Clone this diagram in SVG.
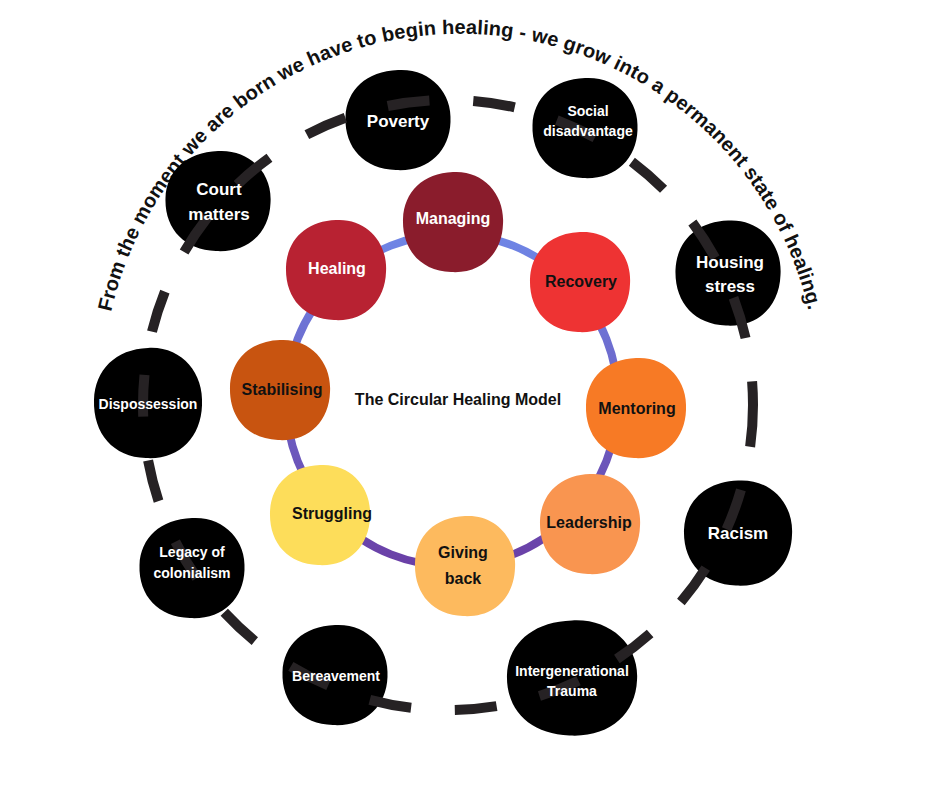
<svg xmlns="http://www.w3.org/2000/svg" width="940" height="788" viewBox="0 0 940 788">
<defs>
<path id="blob" d="M0,-50 C30,-52 52,-28 50,2 C49,32 28,52 -2,50 C-32,49 -51,28 -50,-3 C-49,-30 -30,-49 0,-50Z"/>
<linearGradient id="ring" x1="0" y1="0" x2="0" y2="1"><stop offset="0" stop-color="#6f86e6"/><stop offset="1" stop-color="#6a3fa6"/></linearGradient>
<path id="arc" d="M111,312 A358,358 0 0 1 809,312"/>
<style>
text{font-family:"Liberation Sans",Arial,sans-serif;font-weight:bold;text-anchor:middle}
.w{fill:#fff}.b{fill:#111}
.o{fill:#000}
</style>
</defs>
<rect width="940" height="788" fill="#fff"/>
<text font-size="20" style="text-anchor:start" fill="#111"><textPath href="#arc" textLength="962" lengthAdjust="spacing">From the moment we are born we have to begin healing - we grow into a permanent state of healing.</textPath></text>
<g id="outer-nodes">
<g id="poverty"><use href="#blob" class="o" transform="translate(398,120) scale(1.05,1)"/></g>
<g id="social"><use href="#blob" class="o" transform="translate(585,128) scale(1.05,1)"/></g>
<g id="housing"><use href="#blob" class="o" transform="translate(728,273) scale(1.05,1.05)"/></g>
<g id="racism"><use href="#blob" class="o" transform="translate(738,533) scale(1.08,1.05)"/></g>
<g id="intergen"><use href="#blob" class="o" transform="translate(572,678) scale(1.3,1.15)"/></g>
<g id="bereavement"><use href="#blob" class="o" transform="translate(335,675) scale(1.05,1)"/></g>
<g id="legacy"><use href="#blob" class="o" transform="translate(192,568) scale(1.05,1)"/></g>
<g id="dispossession"><use href="#blob" class="o" transform="translate(148,403) scale(1.08,1.1)"/></g>
<g id="court"><use href="#blob" class="o" transform="translate(218,201) scale(1.05,1)"/></g>
</g>
<g id="connectors">
<circle cx="448" cy="405" r="305" fill="none" stroke="#262224" stroke-width="10" stroke-dasharray="42 44"/>
<circle cx="452" cy="400" r="166" fill="none" stroke="url(#ring)" stroke-width="8"/>
</g>
<g id="inner-nodes">
<g id="managing"><use href="#blob" fill="#8a1c2c" transform="translate(453,222)"/><text x="453" y="224" font-size="16" class="w">Managing</text></g>
<g id="recovery"><use href="#blob" fill="#ee3333" transform="translate(580,282)"/><text x="581" y="287" font-size="16" class="b">Recovery</text></g>
<g id="mentoring"><use href="#blob" fill="#f77a25" transform="translate(636,408)"/><text x="637" y="414" font-size="16" class="b">Mentoring</text></g>
<g id="leadership"><use href="#blob" fill="#f99550" transform="translate(590,524)"/><text x="589" y="528" font-size="16" class="b">Leadership</text></g>
<g id="givingback"><use href="#blob" fill="#fdba5e" transform="translate(465,566)"/><text x="463" y="558" font-size="16" class="b">Giving</text><text x="463" y="584" font-size="16" class="b">back</text></g>
<g id="struggling"><use href="#blob" fill="#fddd5a" transform="translate(320,515)"/><text x="332" y="519" font-size="16" class="b">Struggling</text></g>
<g id="stabilising"><use href="#blob" fill="#c85410" transform="translate(280,390)"/><text x="282" y="395" font-size="16" class="b">Stabilising</text></g>
<g id="healing"><use href="#blob" fill="#b82232" transform="translate(336,270)"/><text x="337" y="274" font-size="16" class="w">Healing</text></g>
</g>
<text x="458" y="405" font-size="16" class="b">The Circular Healing Model</text>
<g id="outer-labels" class="w">
<text x="398" y="127" font-size="17" class="w">Poverty</text>
<text x="588" y="116" font-size="14" class="w">Social</text>
<text x="588" y="136" font-size="14" class="w">disadvantage</text>
<text x="730" y="268" font-size="17" class="w">Housing</text>
<text x="730" y="292" font-size="17" class="w">stress</text>
<text x="738" y="539" font-size="17" class="w">Racism</text>
<text x="572" y="676" font-size="14" class="w">Intergenerational</text>
<text x="572" y="696" font-size="14" class="w">Trauma</text>
<text x="336" y="681" font-size="14" class="w">Bereavement</text>
<text x="192" y="557" font-size="14" class="w">Legacy of</text>
<text x="192" y="578" font-size="14" class="w">colonialism</text>
<text x="148" y="409" font-size="14" class="w">Dispossession</text>
<text x="219" y="195" font-size="17" class="w">Court</text>
<text x="219" y="220" font-size="17" class="w">matters</text>
</g>
</svg>
